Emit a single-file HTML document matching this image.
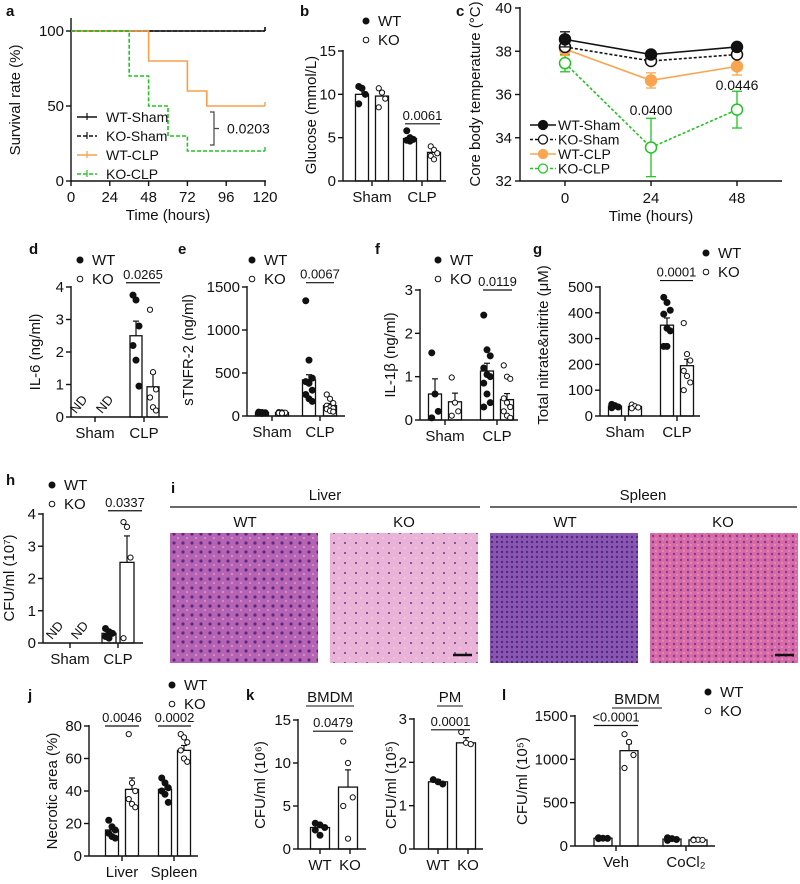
<!DOCTYPE html>
<html><head><meta charset="utf-8"><style>
html,body{margin:0;padding:0;background:#fff}
svg{display:block;font-family:"Liberation Sans",Arial,sans-serif}
</style></head><body>
<svg id="fig" width="800" height="884" viewBox="0 0 800 884" xmlns="http://www.w3.org/2000/svg">
<defs>
<pattern id="pLW" width="9" height="9" patternUnits="userSpaceOnUse"><rect width="9" height="9" fill="#b763b3"/><circle cx="3" cy="3" r="1.6" fill="#5a2a80"/><circle cx="7" cy="7" r="1" fill="#d49ad0"/></pattern>
<pattern id="pLK" width="11" height="10" patternUnits="userSpaceOnUse"><rect width="11" height="10" fill="#e9b3d8"/><circle cx="4" cy="3" r="1" fill="#6a3a8c"/><circle cx="9" cy="8" r="0.8" fill="#f6d6ea"/></pattern>
<pattern id="pSW" width="5" height="5" patternUnits="userSpaceOnUse"><rect width="5" height="5" fill="#8a56b0"/><circle cx="2" cy="2" r="1.2" fill="#4b2a85"/></pattern>
<pattern id="pSK" width="7" height="6" patternUnits="userSpaceOnUse"><rect width="7" height="6" fill="#d86aa6"/><circle cx="2" cy="2" r="1.2" fill="#7a3d98"/><circle cx="5" cy="5" r="0.9" fill="#ee9cc4"/></pattern>
</defs>
</svg>
<script>
// ---------- data ----------
const survTimes = [0,24,48,72,96,120];
const survTicks = [0,50,100];
const wtClpT = [0,48,72,84,120];
const wtClpV = [100,80,60,50,50];
const koClpT = [0,36,48,60,72,120];
const koClpV = [100,70,50,30,20,20];
const shamT = [0,120];
const shamV = [100,100];

const tempTimes = [0,24,48];
const tempTicks = [32,34,36,38,40];
const wtShamT = [38.55,37.85,38.2]; const wtShamE=[0.35,0.15,0.12];
const koShamT = [38.2,37.55,37.85]; const koShamE=[0.15,0.15,0.15];
const wtClpTemp = [38.1,36.65,37.3]; const wtClpE=[0.3,0.35,0.4];
const koClpTemp = [37.45,33.55,35.3]; const koClpE=[0.4,1.35,0.85];

const bMeans=[10,9.8,4.9,3.3]; const bErr=[0.5,0.5,0.2,0.3];
const bPts=[[10.9,10.7,10,8.9],[10.7,10.2,9.5,8.5],[5.8,5,4.8,4.7,4.6],[4,3.6,3.2,2.9,2.5]];
const dMeans=[null,null,2.5,0.93]; const dErr=[0,0,0.45,0.42];
const dPts=[[],[],[3.75,3.6,2.8,2.2,1.75,0.95],[3.3,1.38,0.85,0.6,0.3,0.2]];
const eMeans=[40,40,420,120]; const eErr=[5,5,60,25];
const ePts=[[45,40,38,35,30],[45,42,38,35,32],[1340,650,440,400,380,300,250,200,170],[250,200,150,120,100,90,80,60,50]];
const fMeans=[0.6,0.42,1.13,0.47]; const fErr=[0.35,0.2,0.18,0.14];
const fPts=[[1.55,0.6,0.2,0.05],[0.98,0.4,0.2,0.1],[2.42,1.62,1.48,1.2,1.05,1.0,0.85,0.6,0.4,0.3],[1.26,1.0,0.95,0.5,0.4,0.3,0.2,0.1,0.05]];
const gMeans=[38,37,352,195]; const gErr=[3,3,28,25];
const gPts=[[45,40,35,32],[44,38,33,30],[460,440,410,395,340,330,270,270],[360,240,215,175,155,130,100]];
const hMeans=[null,null,0.3,2.5]; const hErr=[0,0,0.1,0.82];
const hPts=[[],[],[0.45,0.35,0.3,0.2,0.15],[3.75,3.6,2.65,0.15]];
const jMeans=[16,41,41,65]; const jErr=[2,7,3,3];
const jPts=[[22,18,16,14,12,11],[75,45,40,35,32,30],[48,45,42,40,38,33],[75,73,70,65,60,58]];
const kbMeans=[2.5,7.2]; const kbErr=[0.3,2];
const kbPts=[[3,2.8,2.5,2.2,1.6],[12.5,10,6,5,1.2]];
const kpMeans=[1.55,2.45]; const kpErr=[0.05,0.12];
const kpPts=[[1.6,1.55,1.5],[2.7,2.45,2.42]];
const lMeans=[90,1100,80,70]; const lErr=[5,80,5,3];
const lPts=[[95,90,88,85],[1290,1200,1050,900],[95,85,75,65],[75,72,70,68]];

// ---------- helpers ----------
const S=document.getElementById('fig'), NS='http://www.w3.org/2000/svg';
function el(tag,attrs,parent,txt){const e=document.createElementNS(NS,tag);for(const k in attrs)e.setAttribute(k,attrs[k]);if(txt!==undefined)e.textContent=txt;(parent||S).appendChild(e);return e;}
function grp(name){const g=el('g',{});return g;}
function txt(g,x,y,s,size,anchor,extra){const t=el('text',Object.assign({x:x,y:y,'font-size':size||13,'text-anchor':anchor||'middle',fill:'#111'},extra||{}),g,s);return t;}
function line(g,x1,y1,x2,y2,c,w,dash){return el('line',{x1:x1,y1:y1,x2:x2,y2:y2,stroke:c||'#111','stroke-width':w||1.4,'stroke-dasharray':dash||'none'},g);}
function yAxis(g,x,ys,ticks,x2,fmt){line(g,x,ys(ticks[ticks.length-1])-1,x,ys(ticks[0]));line(g,x,ys(ticks[0]),x2,ys(ticks[0]));
 ticks.forEach(t=>{line(g,x-5,ys(t),x,ys(t));txt(g,x-7,ys(t)+5,fmt?fmt(t):String(t),15,'end');});}
function yTitle(g,x,y,s,size){const t=txt(g,x,y,s,size||14,'middle',{transform:`rotate(-90 ${x} ${y})`});return t;}
function letter(s,x,y){const t=txt(S,x,y,s,15,'start',{'font-weight':'bold'});}
function legendWK(x,y,gap){const g=grp('legend');el('circle',{cx:x,cy:y-5,r:3.5,fill:'#111'},g);txt(g,x+12,y,'WT',15,'start');
 el('circle',{cx:x,cy:y+gap-5,r:2.8,fill:'#fff',stroke:'#111','stroke-width':1},g);txt(g,x+12,y+gap,'KO',15,'start');}
function bars(name,cfg,means,errs,pts){
 const g=grp(name);const ys=v=>cfg.y0-(v-cfg.t[0])/(cfg.t[cfg.t.length-1]-cfg.t[0])*(cfg.y0-cfg.y1);
 means.forEach((m,i)=>{const cx=cfg.bx[i],w=cfg.bw;
  if(m===null){txt(g,cx,cfg.y0-10,'ND',13,'middle',{transform:`rotate(-50 ${cx} ${cfg.y0-10})`});return;}
  const b=el('rect',{x:cx-w/2,y:ys(m),width:w,height:cfg.y0-ys(m),fill:'#fff',stroke:'#111','stroke-width':1.3},g);
  
  line(g,cx,ys(m),cx,ys(m+errs[i]),'#111',1.2);line(g,cx-3,ys(m+errs[i]),cx+3,ys(m+errs[i]),'#111',1.2);
  const p=pts[i];p.forEach((v,j)=>{const off=((j%3)-1)*w*0.25;const ko=i%2==1;
   const c=el('circle',{cx:cx+off,cy:ys(v),r:ko?2.6:3,fill:ko?'#fff':'#111',stroke:'#111','stroke-width':1},g);
   });
 });
 yAxis(g,cfg.ax,ys,cfg.t,cfg.ax2,cfg.fmt);
 (cfg.cats||[]).forEach((c,i)=>{line(g,c[1],cfg.y0,c[1],cfg.y0+5);txt(g,c[1],cfg.y0+21,c[0],15);});
 (cfg.sig||[]).forEach(s=>{line(g,s[0],ys(s[2]),s[1],ys(s[2]),'#111',1.2);txt(g,(s[0]+s[1])/2,ys(s[2])-4,s[3],13);});
 return {g,ys};
}

// ---------- panel a ----------
letter('a',6,16);
(function(){const g=grp('panel-a-survival');const xs=t=>71+t/120*194, ys=v=>181-v/100*150;
 line(g,71,18,71,181);line(g,71,181,266,181);
 survTicks.forEach(t=>{line(g,66,ys(t),71,ys(t));txt(g,64,ys(t)+5,String(t),15,'end');});
 survTimes.forEach(t=>{line(g,xs(t),181,xs(t),186);txt(g,xs(t),202,String(t),15);});
 txt(g,168,220,'Time (hours)',15);yTitle(g,20,100,'Survival rate (%)',15);
 function step(T,V,c,dash,name){let d='M'+xs(T[0])+' '+ys(V[0]);for(let i=1;i<T.length;i++){d+=' H'+xs(T[i])+' V'+ys(V[i]);}
  const p=el('path',{d:d,fill:'none',stroke:c,'stroke-width':1.6,'stroke-dasharray':dash},g);
  line(g,xs(T[T.length-1]),ys(V[V.length-1])-4,xs(T[T.length-1]),ys(V[V.length-1]),c,1.4);}
 step(shamT,shamV,'#111','none','wt-sham-line');step(shamT,shamV,'#111','4 2','ko-sham-line');
 step(wtClpT,wtClpV,'#f5a04a','none','wt-clp-line');step(koClpT,koClpV,'#22c422','4 2','ko-clp-line');
 el('path',{d:`M210 ${ys(50)+6} h4 v${ys(20)-ys(50)-12} h-4 M214 ${(ys(50)+ys(20))/2} h5`,fill:'none',stroke:'#444','stroke-width':1.2},g);
 txt(g,227,(ys(50)+ys(20))/2+5,'0.0203',14,'start');
 [['WT-Sham','#111','none'],['KO-Sham','#111','4 2'],['WT-CLP','#f5a04a','none'],['KO-CLP','#22c422','4 2']].forEach((l,i)=>{
  const y=117+i*19;line(g,77,y,97,y,l[1],1.6,l[2]);line(g,87,y-4,87,y+3,l[1],1.2);txt(g,106,y+5,l[0],14,'start');});
})();

// ---------- panel b ----------
letter('b',300,16);legendWK(366,26,19);
(function(){const r=bars('panel-b-glucose',{ax:343,ax2:446,y0:181,y1:51,t:[0,5,10,15],bx:[362,382,410,434],bw:13,
 cats:[['Sham',372],['CLP',422]],sig:[[405,440,6.6,'0.0061']]},bMeans,bErr,bPts);yTitle(r.g,316,115,'Glucose (mmol/L)',15);})();

// ---------- panel c ----------
letter('c',456,16);
(function(){const g=grp('panel-c-temperature');const xs=t=>565+t/24*86, ys=v=>181-(v-32)/8*173;
 line(g,520,7,520,181);line(g,520,181,782,181);
 tempTicks.forEach(t=>{line(g,515,ys(t),520,ys(t));txt(g,512,ys(t)+5,String(t),15,'end');});
 tempTimes.forEach(t=>{line(g,xs(t),181,xs(t),186);txt(g,xs(t),203,String(t),15);});
 txt(g,651,221,'Time (hours)',15);yTitle(g,480,94,'Core body temperature (°C)',15);
 function ser(V,E,c,dash,open,name){const d=V.map((v,i)=>(i?'L':'M')+xs(tempTimes[i])+' '+ys(v)).join(' ');
  const p=el('path',{d:d,fill:'none',stroke:c,'stroke-width':1.6,'stroke-dasharray':dash},g);
  V.forEach((v,i)=>{const x=xs(tempTimes[i]);line(g,x,ys(v-E[i]),x,ys(v+E[i]),c,1.3);line(g,x-5,ys(v+E[i]),x+5,ys(v+E[i]),c,1.3);line(g,x-5,ys(v-E[i]),x+5,ys(v-E[i]),c,1.3);
   const m=el('circle',{cx:x,cy:ys(v),r:5.5,fill:open?'#fff':c,stroke:c,'stroke-width':1.5},g);});}
 ser(koClpTemp,koClpE,'#22c422','3 2',true,'ko-clp-series');ser(wtClpTemp,wtClpE,'#f9a54f','none',false,'wt-clp-series');
 ser(koShamT,koShamE,'#111','3 2',true,'ko-sham-series');ser(wtShamT,wtShamE,'#111','none',false,'wt-sham-series');
 txt(g,xs(24),115,'0.0400',14);txt(g,xs(48),90,'0.0446',14);
 [['WT-Sham','#111','none',false],['KO-Sham','#111','3 2',true],['WT-CLP','#f9a54f','none',false],['KO-CLP','#22c422','3 2',true]].forEach((l,i)=>{
  const y=125+i*14.5;line(g,530,y,556,y,l[1],1.5,l[2]);el('circle',{cx:543,cy:y,r:4.5,fill:l[3]?'#fff':l[1],stroke:l[1],'stroke-width':1.3},g);txt(g,558,y+5,l[0],14,'start');});
})();

// ---------- row d-g ----------
letter('d',29,254);legendWK(80,265,19);
(function(){const r=bars('panel-d-il6',{ax:71,ax2:168,y0:417,y1:287,t:[0,1,2,3,4],bx:[82,108,136,153],bw:12,
 cats:[['Sham',95],['CLP',144]],sig:[[126,160,4.13,'0.0265']]},dMeans,dErr,dPts);yTitle(r.g,40,352,'IL-6 (ng/ml)',15);})();
letter('e',178,254);legendWK(252,265,19);
(function(){const r=bars('panel-e-stnfr2',{ax:247,ax2:345,y0:416,y1:287,t:[0,500,1000,1500],bx:[262,282,309,330],bw:13,
 cats:[['Sham',272],['CLP',320]],sig:[[306,334,1550,'0.0067']]},eMeans,eErr,ePts);yTitle(r.g,193,350,'sTNFR-2 (ng/ml)',15);})();
letter('f',375,254);legendWK(438,265,19);
(function(){const r=bars('panel-f-il1b',{ax:420,ax2:518,y0:420,y1:290,t:[0,1,2,3],bx:[435,455,487,507],bw:13,
 cats:[['Sham',445],['CLP',497]],sig:[[483,512,3.0,'0.0119']]},fMeans,fErr,fPts);yTitle(r.g,395,355,'IL-1β (ng/ml)',15);})();
letter('g',533,254);legendWK(706,258,19);
(function(){const r=bars('panel-g-nitrate',{ax:600,ax2:700,y0:416,y1:287,t:[0,100,200,300,400,500],bx:[615,635,667,687],bw:13,
 cats:[['Sham',625],['CLP',677]],sig:[[660,693,525,'0.0001']]},gMeans,gErr,gPts);yTitle(r.g,548,345,'Total nitrate&nitrite (μM)',15);})();

// ---------- row h-i ----------
letter('h',6,485);legendWK(52,490,19);
(function(){const r=bars('panel-h-cfu',{ax:43,ax2:143,y0:643,y1:514,t:[0,1,2,3,4],bx:[58,83,109,127],bw:14,
 cats:[['Sham',70],['CLP',118]],sig:[[108,142,4.1,'0.0337']]},hMeans,hErr,hPts);yTitle(r.g,14,578,'CFU/ml (10⁷)',15);})();
letter('i',171,493);
(function(){const g=grp('panel-i-histology');
 line(g,170,507,480,507,'#111',1.2);line(g,490,507,797,507,'#111',1.2);
 txt(g,325,500,'Liver',15);txt(g,643,500,'Spleen',15);
 [['WT',245],['KO',404],['WT',565],['KO',723]].forEach(l=>txt(g,l[1],527,l[0],15));
 [[170,'pLW','liver-wt-image'],[330,'pLK','liver-ko-image'],[490,'pSW','spleen-wt-image'],[650,'pSK','spleen-ko-image']].forEach(p=>{
  const r=el('rect',{x:p[0],y:533,width:148,height:130,fill:`url(#${p[1]})`},g);});
 line(g,453,655,472,655,'#111',2.5);line(g,775,655,794,655,'#111',2.5);
})();

// ---------- row j-l ----------
letter('j',28,700);legendWK(172,690,19);
(function(){const r=bars('panel-j-necrotic',{ax:89,ax2:198,y0:856,y1:726,t:[0,20,40,60,80],bx:[112,132,165,184],bw:13,
 cats:[['Liver',122],['Spleen',174]],sig:[[105,139,80,'0.0046'],[158,191,80,'0.0002']]},jMeans,jErr,jPts);yTitle(r.g,57,791,'Necrotic area (%)',15);})();
letter('k',246,700);
(function(){const r=bars('panel-k-bmdm',{ax:298,ax2:366,y0:849,y1:720,t:[0,5,10,15],bx:[320,348],bw:19,
 cats:[['WT',320],['KO',350]],sig:[[313,353,13.7,'0.0479']]},kbMeans,kbErr,kbPts);yTitle(r.g,265,785,'CFU/ml (10⁶)',15);
 txt(r.g,330,702,'BMDM',15);line(r.g,306,706,354,706,'#111',1);})();
(function(){const r=bars('panel-k-pm',{ax:414,ax2:483,y0:849,y1:719,t:[0,1,2,3],bx:[438,466],bw:19,
 cats:[['WT',438],['KO',468]],sig:[[431,470,2.75,'0.0001']]},kpMeans,kpErr,kpPts);yTitle(r.g,396,785,'CFU/ml (10⁵)',15);
 txt(r.g,450,702,'PM',15);line(r.g,437,706,463,706,'#111',1);})();
letter('l',502,700);legendWK(708,697,19);
(function(){const r=bars('panel-l-cocl2',{ax:575,ax2:715,y0:846,y1:716,t:[0,500,1000,1500],bx:[603,629,672,698],bw:18,
 cats:[['Veh',616],['CoCl₂',686]],sig:[[594,638,1390,'<0.0001']]},lMeans,lErr,lPts);yTitle(r.g,527,781,'CFU/ml (10⁵)',15);
 txt(r.g,637,704,'BMDM',15);line(r.g,612,708,662,708,'#111',1);})();
</script>
</body></html>
